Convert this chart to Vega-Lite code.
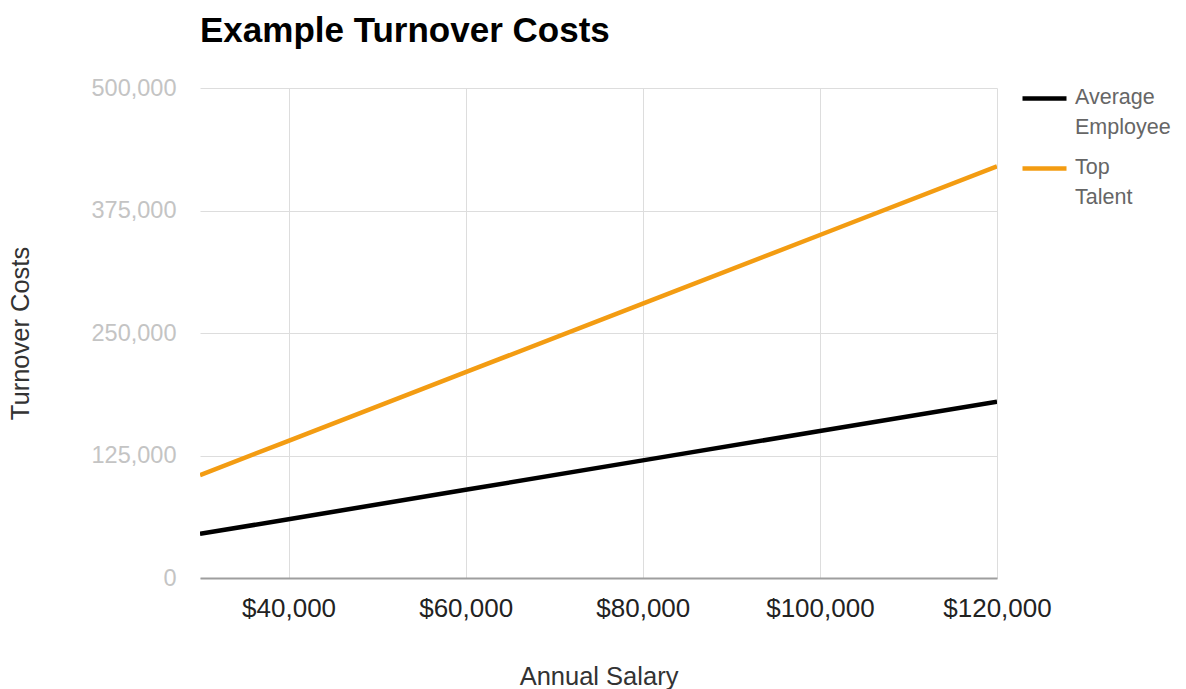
{
  "$schema": "https://vega.github.io/schema/vega-lite/v6.json",
  "autosize": "none",
  "width": 797,
  "height": 490,
  "padding": {"left": 200, "top": 88, "right": 189, "bottom": 111},
  "background": "white",
  "title": {
    "text": "Example Turnover Costs",
    "anchor": "start",
    "frame": "group",
    "font": "Liberation Sans",
    "fontSize": 35,
    "fontWeight": "bold",
    "color": "#000000",
    "offset": 25
  },
  "data": {
    "values": [
      {"salary": 30000, "cost": 45000, "series": "Average Employee"},
      {"salary": 40000, "cost": 60000, "series": "Average Employee"},
      {"salary": 60000, "cost": 90000, "series": "Average Employee"},
      {"salary": 80000, "cost": 120000, "series": "Average Employee"},
      {"salary": 100000, "cost": 150000, "series": "Average Employee"},
      {"salary": 120000, "cost": 180000, "series": "Average Employee"},
      {"salary": 30000, "cost": 105000, "series": "Top Talent"},
      {"salary": 40000, "cost": 140000, "series": "Top Talent"},
      {"salary": 60000, "cost": 210000, "series": "Top Talent"},
      {"salary": 80000, "cost": 280000, "series": "Top Talent"},
      {"salary": 100000, "cost": 350000, "series": "Top Talent"},
      {"salary": 120000, "cost": 420000, "series": "Top Talent"}
    ]
  },
  "mark": {"type": "line", "strokeWidth": 4.5, "clip": true},
  "encoding": {
    "x": {
      "field": "salary",
      "type": "quantitative",
      "scale": {"domain": [30000, 120000], "nice": false, "zero": false},
      "axis": {
        "title": "Annual Salary",
        "values": [40000, 60000, 80000, 100000, 120000],
        "format": "$,d",
        "labelFont": "Liberation Sans",
        "labelFontSize": 26,
        "labelColor": "#222222",
        "labelPadding": 17,
        "labelFlush": false,
        "ticks": false,
        "domainColor": "#9e9e9e",
        "domainWidth": 2,
        "gridColor": "#dddddd",
        "titleFont": "Liberation Sans",
        "titleFontSize": 25.5,
        "titleFontWeight": "normal",
        "titleColor": "#333333",
        "titlePadding": 43
      }
    },
    "y": {
      "field": "cost",
      "type": "quantitative",
      "scale": {"domain": [0, 500000], "nice": false},
      "axis": {
        "title": "Turnover Costs",
        "values": [0, 125000, 250000, 375000, 500000],
        "format": ",d",
        "labelFont": "Liberation Sans",
        "labelFontSize": 23.5,
        "labelColor": "#c4c4c4",
        "labelPadding": 24,
        "ticks": false,
        "domain": false,
        "gridColor": "#dddddd",
        "titleFont": "Liberation Sans",
        "titleFontSize": 25.5,
        "titleFontWeight": "normal",
        "titleColor": "#333333",
        "titlePadding": 58
      }
    },
    "color": {
      "field": "series",
      "type": "nominal",
      "scale": {"domain": ["Average Employee", "Top Talent"], "range": ["#000000", "#f39c12"]},
      "legend": {
        "title": null,
        "orient": "none",
        "legendX": 820,
        "legendY": -14,
        "symbolType": "stroke",
        "symbolSize": 1936,
        "symbolStrokeWidth": 4.5,
        "labelExpr": "split(datum.label, ' ')",
        "labelFont": "Liberation Sans",
        "labelFontSize": 21.5,
        "labelColor": "#666666",
        "labelBaseline": "top",
        "labelOffset": 6,
        "rowPadding": 6,
        "padding": 0,
        "encode": {"labels": {"update": {"dy": {"value": -12}, "lineHeight": {"value": 30}}}}
      }
    }
  },
  "config": {"view": {"stroke": null}}
}
